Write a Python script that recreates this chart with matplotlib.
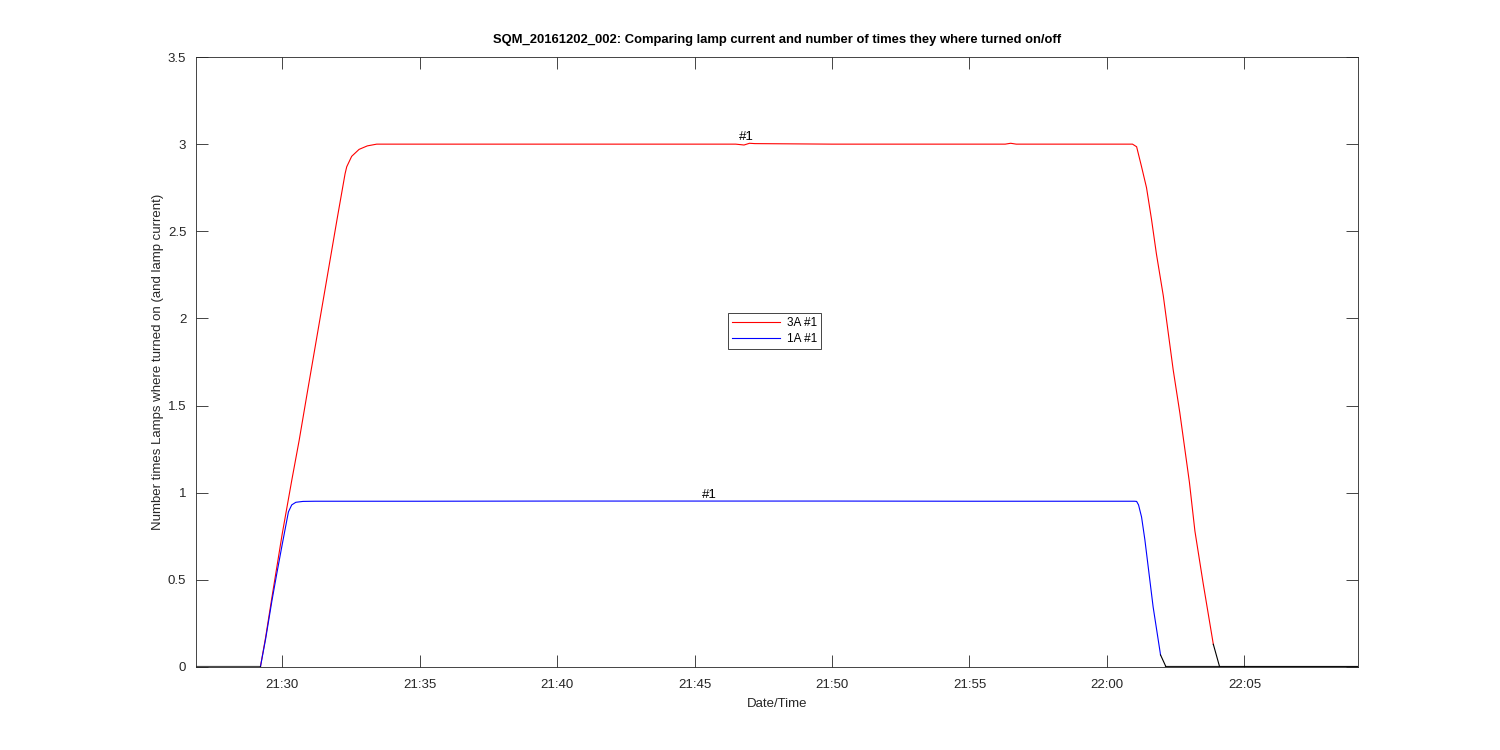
import numpy as np
import pandas as pd
import matplotlib
matplotlib.use("Agg")
import matplotlib.pyplot as plt
import matplotlib.dates as mdates

plt.rcParams['font.family'] = ['Liberation Sans', 'DejaVu Sans']

# minutes after 21:30 on 2016-12-02
t_3a = [-0.79, -0.6, -0.37, 0.0, 0.35, 0.62, 0.9, 1.5, 2.0, 2.29, 2.35, 2.53, 2.8, 3.1, 3.44, 5.0,
        8.0, 12.0, 16.5, 16.8, 17.0, 17.2, 20.0, 24.0, 26.3, 26.5, 26.7, 29.0, 30.7, 30.93,
        31.08, 31.26, 31.44, 31.62, 31.8, 32.05, 32.41, 32.65, 33.0, 33.2, 33.5, 33.87]
v_3a = [0.0, 0.17, 0.4, 0.76, 1.07, 1.30, 1.56, 2.11, 2.57, 2.83, 2.87, 2.93, 2.97, 2.99, 3.0, 3.0,
        3.0, 3.0, 3.0, 2.995, 3.005, 3.003, 3.0, 3.0, 3.0, 3.005, 3.0, 3.0, 3.0, 3.0,
        2.985, 2.87, 2.75, 2.57, 2.37, 2.13, 1.705, 1.46, 1.06, 0.78, 0.48, 0.13]

t_1a = [-0.79, -0.6, -0.37, -0.2, 0.0, 0.23, 0.35, 0.5, 0.76, 1.2, 5.0, 10.0, 15.0, 20.0,
        25.0, 30.0, 31.0, 31.08, 31.15, 31.26, 31.38, 31.68, 31.95]
v_1a = [0.0, 0.16, 0.38, 0.53, 0.7, 0.89, 0.93, 0.945, 0.95, 0.951, 0.951, 0.952, 0.952, 0.952,
        0.951, 0.951, 0.951, 0.95, 0.93, 0.86, 0.73, 0.345, 0.069]

# lamp on/off count (drawn black where lamps are off)
t_off_start = [-3.13, -0.79]
v_off_start = [0.0, 0.0]
t_off_1a = [31.95, 32.15, 39.13]
v_off_1a = [0.069, 0.0, 0.0]
t_off_3a = [33.87, 34.1, 39.13]
v_off_3a = [0.13, 0.0, 0.0]

label_pos_3a = (16.9, 3.005)
label_pos_1a = (15.55, 0.955)

base = pd.Timestamp("2016-12-02 21:30:00")


def to_time(mins):
    return base + pd.to_timedelta(np.array(mins), unit="m")


fig = plt.figure(figsize=(15, 7.5), dpi=100)
ax = fig.add_axes([0.1307, 0.1107, 0.7746, 0.8133])

ax.plot(to_time(t_3a), v_3a, color=(1, 0, 0), lw=0.8, label="3A #1")
ax.plot(to_time(t_1a), v_1a, color=(0, 0, 1), lw=0.8, label="1A #1")
ax.plot(to_time(t_off_start), v_off_start, color="black", lw=1.6, alpha=0.7)
ax.plot(to_time(t_off_1a), v_off_1a, color="black", lw=0.8)
ax.plot(to_time(t_off_3a), v_off_3a, color="black", lw=0.8)
ax.plot(to_time([32.15, 39.13]), [0, 0], color="black", lw=1.6, alpha=0.7)

ax.text(to_time([label_pos_3a[0]])[0], label_pos_3a[1], "#1", ha="center", va="bottom", fontsize=9.5)
ax.text(to_time([label_pos_1a[0]])[0], label_pos_1a[1], "#1", ha="center", va="bottom", fontsize=9.5)

ax.set_xlim(to_time([-3.13])[0], to_time([39.13])[0])
ax.set_ylim(0, 3.5)
ax.xaxis.set_major_locator(mdates.MinuteLocator(byminute=range(0, 60, 5)))
ax.xaxis.set_major_formatter(mdates.DateFormatter("%H:%M"))
yt = [0, 0.5, 1, 1.5, 2, 2.5, 3, 3.5]
ax.set_yticks(yt)
ax.set_yticklabels(["%g" % v for v in yt])

ax.tick_params(direction="in", length=8.4, width=0.6, top=True, right=True,
               labelsize=9.5, colors="#262626")
ax.tick_params(axis="x", pad=9)
ax.tick_params(axis="y", pad=7)
for s in ax.spines.values():
    s.set_linewidth(0.6)
    s.set_color("#262626")

ax.set_xlabel("Date/Time", fontsize=9.5, color="#262626", labelpad=5)
ax.set_ylabel("Number times Lamps where turned on (and lamp current)", fontsize=9.5,
              color="#262626", labelpad=3)
ax.set_title("SQM_20161202_002: Comparing lamp current and number of times they where turned on/off",
             fontsize=9.4, fontweight="bold", color="#000000", pad=10)

leg = ax.legend(loc="center", bbox_to_anchor=(0.498, 0.551), fontsize=8.5, fancybox=False,
                framealpha=1, edgecolor="#262626", handlelength=4.0, borderpad=0.35,
                labelspacing=0.3, handletextpad=0.6, borderaxespad=0)
leg.get_frame().set_linewidth(0.6)

fig.savefig("out.png", dpi=100)
